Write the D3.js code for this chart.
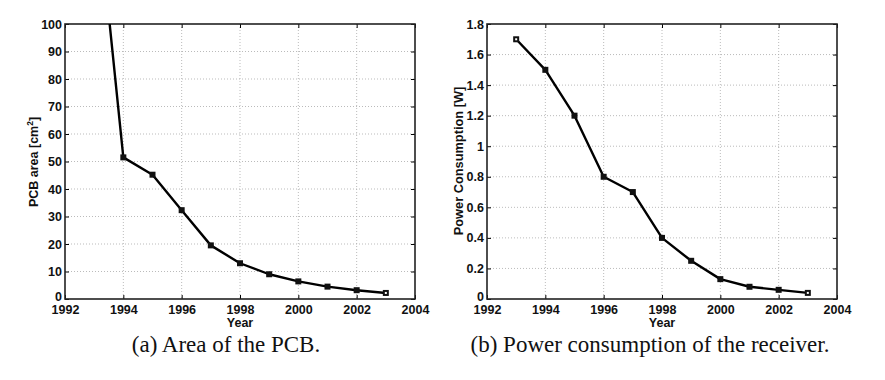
<!DOCTYPE html>
<html><head><meta charset="utf-8">
<script src="https://cdn.jsdelivr.net/npm/d3@7"></script>
<style>body{margin:0;background:#fff}svg{display:block}</style>
</head><body>
<svg id="c" width="885" height="380"></svg>
<script>
const years = [1993,1994,1995,1996,1997,1998,1999,2000,2001,2002,2003];
const pcbArea = [155,51.5,45.2,32.3,19.5,13,9,6.4,4.5,3.2,2.2];
const power = [1.7,1.5,1.2,0.8,0.7,0.4,0.25,0.13,0.08,0.06,0.04];
const xTicks = [1992,1994,1996,1998,2000,2002,2004];
const yTicksA = [0,10,20,30,40,50,60,70,80,90,100];
const yTicksB = [0,0.2,0.4,0.6,0.8,1,1.2,1.4,1.6,1.8];

const svg = d3.select("#c");
const sans = "'Liberation Sans', Arial, Helvetica, sans-serif";
const serif = "'Liberation Serif', 'Times New Roman', serif";
const fs = 12.5;

function panel(o){
  const g = svg.append("g");
  const x = d3.scaleLinear().domain([1992,2004]).range([o.left,o.right]);
  const y = d3.scaleLinear().domain(o.ydom).range([o.bottom,o.top]);
  const id = "clip"+o.name;
  svg.append("clipPath").attr("id",id).append("rect")
    .attr("x",o.left).attr("y",o.top).attr("width",o.right-o.left).attr("height",o.bottom-o.top);
  // grid
  g.append("g").selectAll("line").data(xTicks.slice(1,-1)).join("line")
    .attr("x1",d=>x(d)).attr("x2",d=>x(d)).attr("y1",o.top).attr("y2",o.bottom)
    .attr("stroke","#aaa").attr("stroke-width",0.8).attr("stroke-dasharray","1,2");
  g.append("g").selectAll("line").data(o.yt.slice(1,-1)).join("line")
    .attr("y1",d=>y(d)).attr("y2",d=>y(d)).attr("x1",o.left).attr("x2",o.right)
    .attr("stroke","#aaa").attr("stroke-width",0.8).attr("stroke-dasharray","1,2");
  // axes
  const ax = g.append("g").attr("transform",`translate(0,${o.bottom})`)
    .call(d3.axisBottom(x).tickValues(xTicks).tickFormat(d3.format("d")).tickSizeInner(-4).tickSizeOuter(0).tickPadding(3));
  const axT = g.append("g").attr("transform",`translate(0,${o.top})`)
    .call(d3.axisTop(x).tickValues(xTicks).tickFormat("").tickSizeInner(-4).tickSizeOuter(0));
  const ay = g.append("g").attr("transform",`translate(${o.left},0)`)
    .call(d3.axisLeft(y).tickValues(o.yt).tickFormat(o.fmt).tickSizeInner(-4).tickSizeOuter(0).tickPadding(3));
  const ayR = g.append("g").attr("transform",`translate(${o.right},0)`)
    .call(d3.axisRight(y).tickValues(o.yt).tickFormat("").tickSizeInner(-4).tickSizeOuter(0));
  [ax,axT,ay,ayR].forEach(a=>{
    a.select(".domain").remove();
    a.selectAll("line").attr("stroke","#000").attr("stroke-width",1);
    a.selectAll("text").attr("font-family",sans).attr("font-weight","bold").attr("font-size",fs).attr("fill","#111");
  });
  ax.selectAll("text").attr("y",3).attr("dy","0.98em");
  ay.selectAll("text").filter(d=>d===0).attr("dy","0.12em");
  // box
  g.append("rect").attr("x",o.left).attr("y",o.top).attr("width",o.right-o.left).attr("height",o.bottom-o.top)
    .attr("fill","none").attr("stroke","#222").attr("stroke-width",1.6);
  // line
  const data = years.map((d,i)=>[d,o.vals[i],i]);
  const lg = g.append("g").attr("clip-path",`url(#${id})`);
  lg.append("path").datum(data).attr("d",d3.line().x(d=>x(d[0])).y(d=>y(d[1])))
    .attr("fill","none").attr("stroke","#000").attr("stroke-width",2.4).attr("stroke-linejoin","round");
  const vis = data.filter(d=>d[1]<=o.ydom[1]);
  lg.selectAll("rect.m").data(vis).join("rect").attr("class","m")
    .attr("x",d=>x(d[0])-3).attr("y",d=>y(d[1])-3).attr("width",6).attr("height",6).attr("fill","#111");
  lg.selectAll("rect.w").data(vis.filter(d=>d[2]===0||d[2]===years.length-1)).join("rect").attr("class","w")
    .attr("x",d=>x(d[0])-1).attr("y",d=>y(d[1])-1).attr("width",2).attr("height",2).attr("fill","#fff");
  // labels
  g.append("text").attr("x",(o.left+o.right)/2).attr("y",o.bottom+28).attr("text-anchor","middle")
    .attr("font-family",sans).attr("font-weight","bold").attr("font-size",fs).attr("fill","#111").text("Year");
  const yl = g.append("text").attr("transform",`translate(${o.ylx},${o.ylc}) rotate(-90)`)
    .attr("text-anchor","middle").attr("font-family",sans).attr("font-weight","bold").attr("font-size",o.ylfs).attr("fill","#111");
  o.ylab(yl);
  g.append("text").attr("x",o.capx).attr("y",352).attr("text-anchor","middle")
    .attr("font-family",serif).attr("font-size",23).attr("fill","#111").text(o.caption);
}

panel({name:"a",left:65,right:415,top:24,bottom:299,ydom:[0,100],yt:yTicksA,fmt:d3.format("d"),vals:pcbArea,
  ylx:38,ylc:162,ylfs:12.5,capx:226,caption:"(a) Area of the PCB.",
  ylab:t=>{t.append("tspan").text("PCB area [cm");t.append("tspan").attr("font-size",8.5).attr("dy",-5).text("2");t.append("tspan").attr("dy",5).text("]");}});
panel({name:"b",left:487,right:837,top:24,bottom:299,ydom:[0,1.8],yt:yTicksB,fmt:d=>d3.format("")(+d.toFixed(1)),vals:power,
  ylx:463,ylc:161,ylfs:12.8,capx:650,caption:"(b) Power consumption of the receiver.",
  ylab:t=>t.text("Power Consumption [W]")});
</script>
</body></html>
